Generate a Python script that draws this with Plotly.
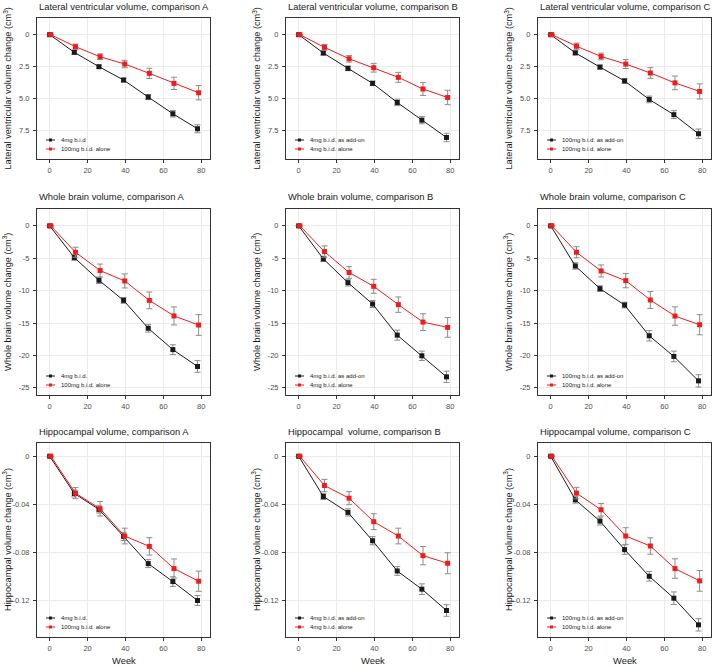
import plotly.graph_objects as go

# Weeks of the visits; the second group is drawn slightly right of the first
weeks = [0, 13, 26, 39, 52, 65, 78]
weeks_red = [0.6, 13.6, 26.6, 39.6, 52.6, 65.6, 78.6]

# Lateral ventricular volume change (cm3), mean and SE
lv_a_black = [0, 1.38, 2.50, 3.54, 4.87, 6.17, 7.34]
lv_a_black_se = [0, 0.15, 0.12, 0.15, 0.20, 0.25, 0.31]
lv_a_red = [0, 0.94, 1.72, 2.29, 3.02, 3.80, 4.53]
lv_a_red_se = [0, 0.20, 0.22, 0.29, 0.40, 0.48, 0.56]

lv_b_black = [0, 1.43, 2.63, 3.80, 5.29, 6.67, 8.02]
lv_b_black_se = [0, 0.16, 0.18, 0.18, 0.25, 0.28, 0.33]
lv_b_red = [0, 0.99, 1.88, 2.58, 3.33, 4.24, 4.90]
lv_b_red_se = [0, 0.22, 0.26, 0.34, 0.39, 0.50, 0.56]

lv_c_black = [0, 1.42, 2.53, 3.61, 5.05, 6.24, 7.73]
lv_c_black_se = [0, 0.15, 0.15, 0.18, 0.26, 0.31, 0.37]
lv_c_red = [0, 0.90, 1.70, 2.29, 2.99, 3.76, 4.43]
lv_c_red_se = [0, 0.24, 0.26, 0.35, 0.42, 0.53, 0.59]

# Whole brain volume change (cm3)
wb_a_black = [0, -4.9, -8.4, -11.5, -15.8, -19.1, -21.7]
wb_a_black_se = [0, 0.40, 0.50, 0.45, 0.60, 0.75, 0.90]
wb_a_red = [0, -4.07, -6.9, -8.5, -11.5, -13.9, -15.3]
wb_a_red_se = [0, 0.77, 1.00, 1.08, 1.29, 1.39, 1.60]

wb_b_black = [0, -5.1, -8.76, -12.06, -16.86, -20.05, -23.3]
wb_b_black_se = [0, 0.41, 0.52, 0.54, 0.77, 0.72, 0.88]
wb_b_red = [0, -3.97, -7.2, -9.33, -12.16, -14.85, -15.67]
wb_b_red_se = [0, 0.88, 0.90, 1.08, 1.19, 1.29, 1.52]

wb_c_black = [0, -6.19, -9.69, -12.22, -16.96, -20.15, -23.92]
wb_c_black_se = [0, 0.49, 0.44, 0.44, 0.80, 0.82, 0.95]
wb_c_red = [0, -4.07, -6.96, -8.45, -11.44, -13.92, -15.26]
wb_c_red_se = [0, 0.85, 0.93, 1.10, 1.30, 1.42, 1.55]

# Hippocampal volume change (cm3)
hc_a_black = [0, -0.0309, -0.0441, -0.0665, -0.0891, -0.1040, -0.1197]
hc_a_black_se = [0, 0.0029, 0.0030, 0.0034, 0.0033, 0.0040, 0.0041]
hc_a_red = [0, -0.0306, -0.0436, -0.0662, -0.0748, -0.0932, -0.1037]
hc_a_red_se = [0, 0.0046, 0.0060, 0.0065, 0.0072, 0.0080, 0.0084]

hc_b_black = [0, -0.0334, -0.0466, -0.0701, -0.0952, -0.1103, -0.1280]
hc_b_black_se = [0, 0.0025, 0.0030, 0.0034, 0.0036, 0.0044, 0.0048]
hc_b_red = [0, -0.0243, -0.0348, -0.0543, -0.0662, -0.0825, -0.0888]
hc_b_red_se = [0, 0.0051, 0.0054, 0.0066, 0.0065, 0.0076, 0.0087]

hc_c_black = [0, -0.0361, -0.0538, -0.0775, -0.0996, -0.1178, -0.1399]
hc_c_black_se = [0, 0.0028, 0.0033, 0.0039, 0.0040, 0.0052, 0.0051]
hc_c_red = [0, -0.0306, -0.0444, -0.0662, -0.0745, -0.0932, -0.1034]
hc_c_red_se = [0, 0.0048, 0.0052, 0.0069, 0.0068, 0.0081, 0.0086]

# Text
titles = [
    ["Lateral ventricular volume, comparison A", "Lateral ventricular volume, comparison B",
     "Lateral ventricular volume, comparison C"],
    ["Whole brain volume, comparison A", "Whole brain volume, comparison B",
     "Whole brain volume, comparison C"],
    ["Hippocampal volume, comparison A", "Hippocampal\u00a0 volume, comparison B",
     "Hippocampal volume, comparison C"],
]
ytitles = [
    "Lateral ventricular volume change (cm<sup>3</sup>)",
    "Whole brain volume change (cm<sup>3</sup>)",
    "Hippocampal volume change (cm<sup>3</sup>)",
]
legend_names = [
    [("4mg b.i.d", "100mg b.i.d. alone"), ("4mg b.i.d. as add-on", "4mg b.i.d. alone"),
     ("100mg b.i.d. as add-on", "100mg b.i.d. alone")],
    [("4mg b.i.d.", "100mg b.i.d. alone"), ("4mg b.i.d. as add-on", "4mg b.i.d. alone"),
     ("100mg b.i.d. as add-on", "100mg b.i.d. alone")],
    [("4mg b.i.d.", "100mg b.i.d. alone"), ("4mg b.i.d. as add-on", "4mg b.i.d. alone"),
     ("100mg b.i.d. as add-on", "100mg b.i.d. alone")],
]
x_ticks = [0, 20, 40, 60, 80]
y_ticks = [[0, 2.5, 5, 7.5], [0, -5, -10, -15, -20, -25], [0, -0.04, -0.08, -0.12]]
y_ticktext = [["0", "2.5", "5.0", "7.5"], ["0", "-5", "-10", "-15", "-20", "-25"],
              ["0", "-0.04", "-0.08", "-0.12"]]
y_ranges = [[9.7, -1.3], [-26.1, 2.6], [-0.150, 0.011]]

data = [
    [(lv_a_black, lv_a_black_se, lv_a_red, lv_a_red_se),
     (lv_b_black, lv_b_black_se, lv_b_red, lv_b_red_se),
     (lv_c_black, lv_c_black_se, lv_c_red, lv_c_red_se)],
    [(wb_a_black, wb_a_black_se, wb_a_red, wb_a_red_se),
     (wb_b_black, wb_b_black_se, wb_b_red, wb_b_red_se),
     (wb_c_black, wb_c_black_se, wb_c_red, wb_c_red_se)],
    [(hc_a_black, hc_a_black_se, hc_a_red, hc_a_red_se),
     (hc_b_black, hc_b_black_se, hc_b_red, hc_b_red_se),
     (hc_c_black, hc_c_black_se, hc_c_red, hc_c_red_se)],
]

W, H = 714, 668
FONT = "Liberation Sans, Arial, sans-serif"
BLACK = "#1a1a1a"
RED = "#f21b1b"
ERR = "#8c8c8c"

# panel edges in pixels
cols_px = [(37, 210), (286, 459), (538, 711)]
rows_px = [(18, 159), (209, 395), (443, 637)]


def px(x):
    return x / W


def py(y):
    return 1 - y / H


fig = go.Figure()
annotations = []
shapes = []

for r in range(3):
    for c in range(3):
        k = r * 3 + c + 1
        xa = "x" if k == 1 else f"x{k}"
        ya = "y" if k == 1 else f"y{k}"
        black, black_se, red, red_se = data[r][c]
        for xs, ys, es, col, name in [
            (weeks, black, black_se, BLACK, legend_names[r][c][0]),
            (weeks_red, red, red_se, RED, legend_names[r][c][1]),
        ]:
            fig.add_trace(go.Scatter(
                x=xs, y=ys, mode="lines+markers", name=name,
                xaxis=xa, yaxis=ya, showlegend=False,
                line=dict(color=col, width=1),
                marker=dict(symbol="square", size=5, color=col),
                error_y=dict(type="data", array=es, color=ERR, thickness=1, width=3),
            ))

        x0, x1 = cols_px[c]
        y0, y1 = rows_px[r]
        axis_common = dict(
            showline=True, mirror=True, linecolor="#333333", linewidth=1,
            showgrid=True, gridcolor="#ebebeb", gridwidth=1, zeroline=False,
            ticks="outside", ticklen=3, tickcolor="#333333",
            tickfont=dict(family=FONT, size=7.5, color="#4d4d4d"),
        )
        fig.update_layout({
            ("xaxis" if k == 1 else f"xaxis{k}"): dict(
                domain=[px(x0), px(x1)], anchor=ya, range=[-6.7, 84.6],
                tickvals=x_ticks, ticklabelstandoff=1, **axis_common),
            ("yaxis" if k == 1 else f"yaxis{k}"): dict(
                domain=[py(y1), py(y0)], anchor=xa, range=y_ranges[r],
                tickvals=y_ticks[r], ticktext=y_ticktext[r], ticklabelstandoff=2,
                **axis_common),
        })

        # panel title
        annotations.append(dict(
            text=titles[r][c], x=px(x0), y=py(y0 - 12), xref="paper", yref="paper",
            xanchor="left", yanchor="middle", showarrow=False,
            font=dict(family=FONT, size=9.4, color="#1a1a1a")))
        # y axis title
        annotations.append(dict(
            text=ytitles[r], x=px(x0 - 30), y=py((y0 + y1) / 2), xref="paper",
            yref="paper", xanchor="center", yanchor="middle", textangle=-90,
            showarrow=False, font=dict(family=FONT, size=9.2, color="#1a1a1a")))
        if r == 2:
            annotations.append(dict(
                text="Week", x=px((x0 + x1) / 2), y=py(660), xref="paper",
                yref="paper", xanchor="center", yanchor="middle", showarrow=False,
                font=dict(family=FONT, size=9.4, color="#1a1a1a")))

        # legend in the lower left corner of the panel
        for i, col in enumerate([BLACK, RED]):
            ly = y1 - 19 + 9 * i
            shapes.append(dict(type="line", xref="paper", yref="paper",
                               x0=px(x0 + 9), x1=px(x0 + 18), y0=py(ly), y1=py(ly),
                               line=dict(color=col, width=1)))
            shapes.append(dict(type="rect", xref="paper", yref="paper",
                               x0=px(x0 + 12), x1=px(x0 + 15), y0=py(ly - 1.5),
                               y1=py(ly + 1.5), line=dict(width=0), fillcolor=col))
            annotations.append(dict(
                text=legend_names[r][c][i], x=px(x0 + 22), y=py(ly), xref="paper",
                yref="paper", xanchor="left", yanchor="middle", showarrow=False,
                font=dict(family=FONT, size=6, color="#1a1a1a")))

fig.update_layout(
    width=W, height=H, autosize=False,
    margin=dict(l=0, r=0, t=0, b=0),
    paper_bgcolor="white", plot_bgcolor="white",
    showlegend=False,
    annotations=annotations, shapes=shapes,
)

# the page's default body margin would push the fixed-size figure out of the window
fig.write_html("out.html", config={"displayModeBar": False},
               post_script="document.body.style.margin='0';"
                           "document.body.style.overflow='hidden';")
